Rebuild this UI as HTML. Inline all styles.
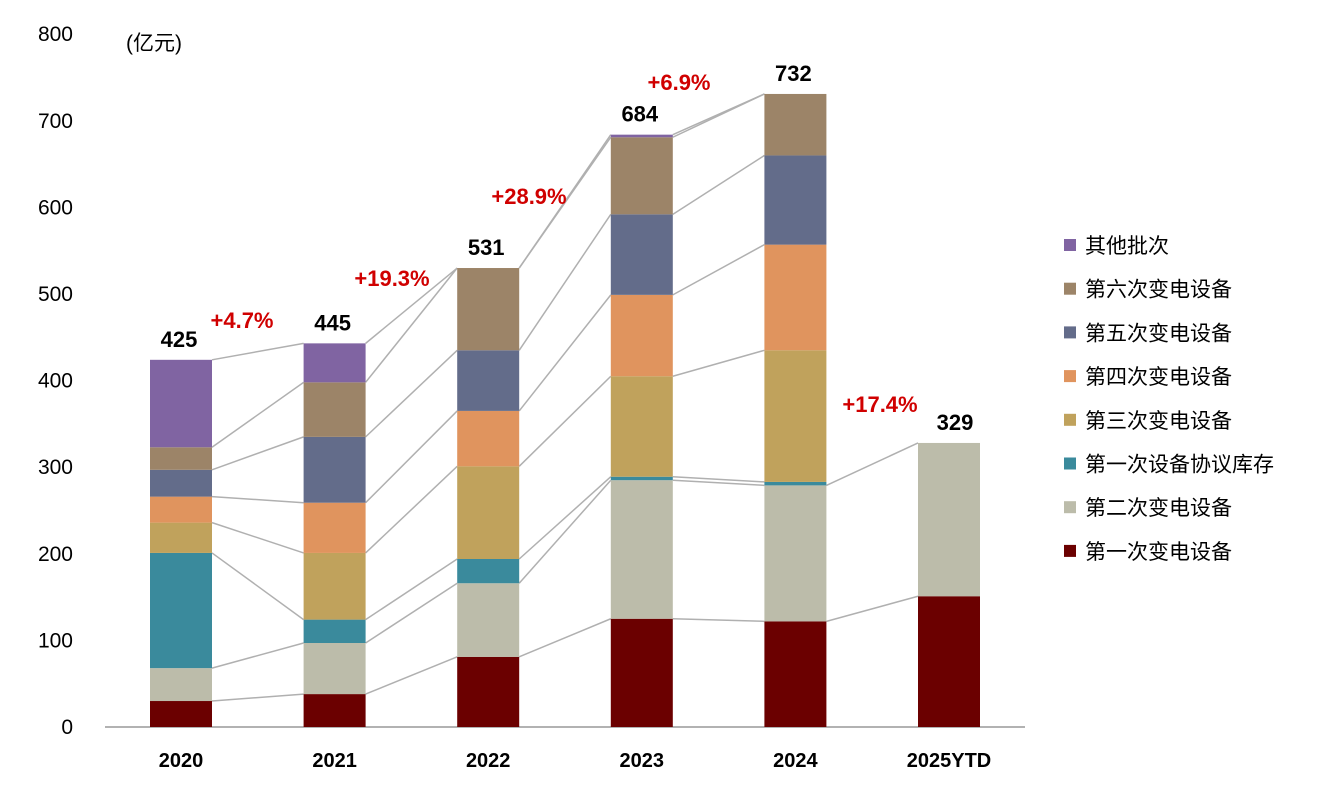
<!DOCTYPE html>
<html><head><meta charset="utf-8"><style>
body{margin:0;background:#fff;}
svg text{font-family:"Liberation Sans","Noto Sans CJK SC",sans-serif;}
</style></head><body>
<svg id="chart" width="1326" height="783" viewBox="0 0 1326 783" xmlns="http://www.w3.org/2000/svg">
<text x="126" y="50" font-size="21" fill="#000">(亿元)</text>
<g id="g"></g>
</svg>
<script>
const categories=["2020","2021","2022","2023","2024","2025YTD"];
const seriesNames=["第一次变电设备","第二次变电设备","第一次设备协议库存","第三次变电设备","第四次变电设备","第五次变电设备","第六次变电设备","其他批次"];
const seriesColors=["#6b0000","#bcbcaa","#3a8a9c","#c0a25c","#e0945e","#636c8a","#9c8468","#8064a2"];
const s1=[30,38,81,125,122,151];
const s2=[38,59,85,160,157,177];
const s3=[133,27,28,4,4,0];
const s4=[35,77,107,116,152,0];
const s5=[30,58,64,94,122,0];
const s6=[31,76,70,93,103,0];
const s7=[26,63,95,89,71,0];
const s8=[101,45,0,3,0,0];
const totals=["425","445","531","684","732","329"];
const growth=["+4.7%","+19.3%","+28.9%","+6.9%","","+17.4%"];
const yTicks=[0,100,200,300,400,500,600,700,800];
const series=[s1,s2,s3,s4,s5,s6,s7,s8];
const NS="http://www.w3.org/2000/svg";
const g=document.getElementById('g');
const y0=727,scale=0.866;
const y=v=>y0-v*scale;
const xc=i=>181+i*153.6;
const bw=62;
function el(t,a){const e=document.createElementNS(NS,t);for(const k in a)e.setAttribute(k,a[k]);g.appendChild(e);return e;}
yTicks.forEach(t=>{const e=el('text',{x:73,y:y(t)+7,'text-anchor':'end','font-size':21,fill:'#000'});e.textContent=t;

});
const ax=el('line',{x1:105,x2:1025,y1:y0,y2:y0,stroke:'#999','stroke-width':1.5});


const cum=categories.map((c,j)=>{let s=0;return series.map(sr=>{s+=sr[j];return s;});});
for(let j=0;j<categories.length-1;j++){
  series.forEach((sr,i)=>{
    const a=sr[j],b=sr[j+1];
    if(a===0&&b===0)return;
    if(b===0&&j+1===categories.length-1)return;
    const l=el('line',{x1:xc(j)+bw/2,y1:y(cum[j][i]),x2:xc(j+1)-bw/2,y2:y(cum[j+1][i]),stroke:'#b0b0b0','stroke-width':1.5});
    
    
  });
}
categories.forEach((c,j)=>{
  let base=0;
  series.forEach((sr,i)=>{
    const v=sr[j];
    if(v>0){
      const r=el('rect',{x:xc(j)-bw/2,y:y(base+v),width:bw,height:v*scale,fill:seriesColors[i]});
      
      
    }
    base+=v;
  });
  const xl=el('text',{x:xc(j),y:767,'text-anchor':'middle','font-size':20,'font-weight':'bold',fill:'#000'});xl.textContent=c;
  
  
  const tl=el('text',{x:xc(j)+(j===5?6:-2),y:y(base)-13,'text-anchor':'middle','font-size':22,'font-weight':'bold',fill:'#000'});tl.textContent=totals[j];
  
  
});
const gPos=[[242,328],[392,286],[529,204],[679,90],null,[880,412]];
growth.forEach((t,i)=>{if(!t)return;
  const e=el('text',{x:gPos[i][0],y:gPos[i][1],'text-anchor':'middle','font-size':22,'font-weight':'bold',fill:'#d00000'});e.textContent=t;
  
  
});
for(let k=seriesNames.length-1;k>=0;k--){
  const row=seriesNames.length-1-k;
  const yy=245+row*43.7;
  const m=el('rect',{x:1064,y:yy-6,width:12,height:12,fill:seriesColors[k]});
  
  
  const t=el('text',{x:1085,y:yy+8,'font-size':21,fill:'#000'});t.textContent=seriesNames[k];
  
  
}
</script>
</body></html>
